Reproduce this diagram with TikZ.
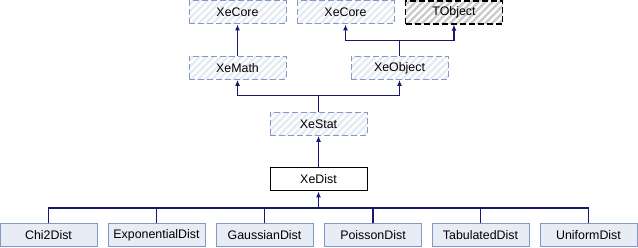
\documentclass[tikz,border=0pt]{standalone}
\usepackage{fontspec}
\setmainfont{Liberation Sans}
\usepackage{tikz}
\usetikzlibrary{arrows.meta}
\definecolor{edge}{HTML}{191970}
\definecolor{frame}{HTML}{8497C9}
\definecolor{boxfill}{HTML}{E8ECF5}
\definecolor{hatch}{HTML}{E6EAF3}
\definecolor{grayhatch}{HTML}{CACACA}
\tikzset{
  cls/.style={draw=black, fill=white, line width=1pt, minimum width=97pt,
    minimum height=23pt, inner sep=0pt, font=\fontsize{12.4}{14}\selectfont},
  leaf/.style={cls, draw=frame, fill=boxfill},
  % diagonal stripes inside the box
  hatched/.style={path picture={
    \foreach \k in {-12,...,12}
      \draw[draw=#1, solid, line width=2.2pt]
        ([xshift=\k*7pt-20pt, yshift=-20pt]path picture bounding box.center)
        -- ++(40pt,40pt);}},
  ext/.style={cls, draw=frame, dash pattern=on 6pt off 3pt, hatched=hatch},
  extgray/.style={cls, draw=black, line width=1.2pt, dash pattern=on 6pt off 3pt,
    hatched=grayhatch},
  wire/.style={draw=edge, line width=1.1pt},
  inh/.style={wire, -{Latex[length=6pt,width=5pt]}},
}
\begin{document}
\begin{tikzpicture}[x=1pt, y=-1pt]
\useasboundingbox (0,0) rectangle (638,248);
% base classes
\node[ext] (xecoreA) at (237.5,12.5) {XeCore};
\node[ext] (xecoreB) at (345.5,12.5) {XeCore};
\node[extgray] (tobject) at (454,12.5) {TObject};
\node[ext] (xemath) at (237.5,68) {XeMath};
\node[ext] (xeobject) at (399.5,68) {XeObject};
\node[ext] (xestat) at (318.5,124) {XeStat};
\node[cls] (xedist) at (318.5,179.5) {XeDist};
% derived distributions
\node[leaf] (chi) at (48.5,235.5) {Chi2Dist};
\node[leaf] (expo) at (156.5,235.5) {ExponentialDist};
\node[leaf] (gauss) at (264.5,235.5) {GaussianDist};
\node[leaf] (poisson) at (373,235.5) {PoissonDist};
\node[leaf] (tab) at (480.5,235.5) {TabulatedDist};
\node[leaf] (uniform) at (588.5,235.5) {UniformDist};

\coordinate (busA) at (399.5,40.5);
\coordinate (busB) at (318.5,95.5);
\coordinate (busC) at (318.5,208);

\draw[inh] (xemath.north) -- (xecoreA.south);
\draw[wire] (xeobject.north) -- (busA);
\draw[inh] (busA) -| (xecoreB.south);
\draw[inh] (busA) -| (tobject.south);
\draw[wire] (xestat.north) -- (busB);
\draw[inh] (busB) -| (xemath.south);
\draw[inh] (busB) -| (xeobject.south);
\draw[inh] (xedist.north) -- (xestat.south);
\draw[inh] (busC) -- (xedist.south);
\foreach \n in {chi,expo,gauss,poisson,tab,uniform}
  \draw[wire] (\n.north) |- (busC);
\end{tikzpicture}
\end{document}
